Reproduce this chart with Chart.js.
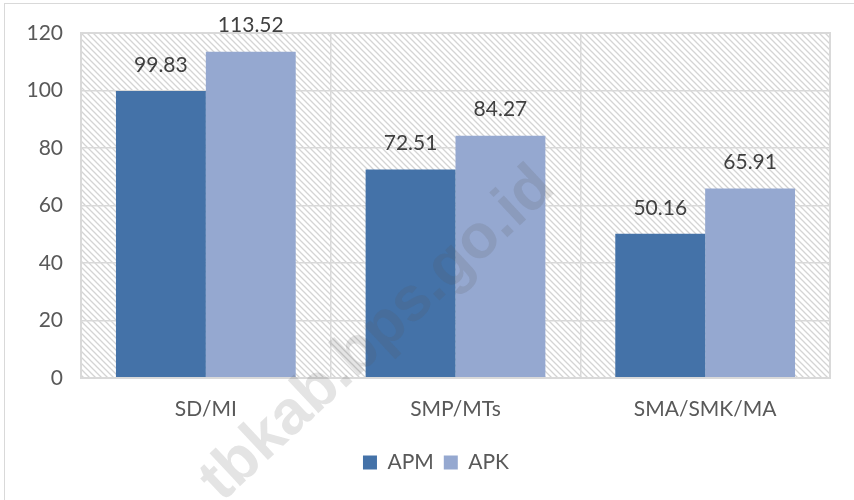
<!DOCTYPE html>
<html>
<head>
<meta charset="utf-8">
<script src="https://cdn.jsdelivr.net/npm/chart.js@4.4.1/dist/chart.umd.min.js"></script>
<style>
  html, body { margin: 0; padding: 0; background: #ffffff; }
  #wrap { position: relative; width: 854px; height: 500px; overflow: hidden; }
  #frame { position: absolute; left: 4px; top: 3px; width: 900px; height: 600px; border: 1px solid #d9d9d9; box-sizing: border-box; pointer-events: none; }
  canvas { position: absolute; left: 0; top: 0; }
</style>
</head>
<body>
<div id="wrap">
  <canvas id="c" width="854" height="500"></canvas>
  <div id="frame"></div>
</div>
<script>
const categories = ["SD/MI", "SMP/MTs", "SMA/SMK/MA"];
const apmValues = [99.83, 72.51, 50.16];
const apkValues = [113.52, 84.27, 65.91];
const seriesNames = ["APM", "APK"];
const yTicks = [0, 20, 40, 60, 80, 100, 120];

const FONT = "Lato, 'Noto Sans', sans-serif";
const FS = 21;

function makeHatch(ctx) {
  const s = 6;
  const p = document.createElement('canvas');
  p.width = s; p.height = s;
  const g = p.getContext('2d');
  g.strokeStyle = '#d4d4d4';
  g.lineWidth = 1.3;
  g.beginPath();
  g.moveTo(-1, -1); g.lineTo(s + 1, s + 1);
  g.moveTo(-1, s - 1); g.lineTo(1, s + 1);
  g.moveTo(s - 1, -1); g.lineTo(s + 1, 1);
  g.stroke();
  return ctx.createPattern(p, 'repeat');
}

const bgPlugin = {
  id: 'bgHatch',
  afterLayout(chart) {
    if (chart.legend) {
      chart.legend.left += 21;
      chart.legend.right += 21;
    }
  },
  beforeDraw(chart) {
    const { ctx, chartArea: a } = chart;
    ctx.save();
    ctx.fillStyle = makeHatch(ctx);
    ctx.fillRect(a.left, a.top, a.right - a.left, a.bottom - a.top);
    ctx.restore();
  },
  afterDatasetsDraw(chart) {
    const { ctx, chartArea: a } = chart;
    ctx.save();
    ctx.strokeStyle = '#d9d9d9';
    ctx.lineWidth = 2;
    ctx.strokeRect(a.left, a.top, a.right - a.left, a.bottom - a.top);
    ctx.font = FS + "px " + FONT;
    ctx.fillStyle = '#404040';
    ctx.textAlign = 'center';
    ctx.textBaseline = 'middle';
    chart.data.datasets.forEach((ds, i) => {
      chart.getDatasetMeta(i).data.forEach((bar, j) => {
        ctx.fillText(ds.data[j].toFixed(2), bar.x, bar.y - 26);
      });
    });
    ctx.restore();
  },
  afterDraw(chart) {
    const { ctx } = chart;
    ctx.save();
    ctx.translate(222, 503);
    ctx.rotate(-43 * Math.PI / 180);
    ctx.font = "bold 62px 'Liberation Sans', Arial, sans-serif";
    ctx.fillStyle = 'rgba(90,90,90,0.16)';
    ctx.textBaseline = 'alphabetic';
    ctx.textAlign = 'left';
    ctx.fillText('tbkab.bps.go.id', 0, 0);
    ctx.restore();
  }
};

new Chart(document.getElementById('c'), {
  type: 'bar',
  data: {
    labels: categories,
    datasets: [
      { label: seriesNames[0], data: apmValues, backgroundColor: '#4472a8', borderWidth: 0 },
      { label: seriesNames[1], data: apkValues, backgroundColor: '#95a8d0', borderWidth: 0 }
    ]
  },
  options: {
    responsive: false,
    animation: false,
    devicePixelRatio: 1,
    layout: { padding: { top: 33, right: 24, bottom: 17, left: 0 } },
    datasets: { bar: { categoryPercentage: 0.72, barPercentage: 1.0 } },
    plugins: {
      legend: {
        position: 'bottom',
        labels: {
          font: { size: FS, family: FONT },
          color: '#595959',
          boxWidth: 14,
          boxHeight: 14,
          padding: 10
        }
      },
      tooltip: { enabled: false }
    },
    scales: {
      x: {
        grid: { offset: true, color: '#d9d9d9', lineWidth: 1.5, drawTicks: false },
        border: { display: false },
        ticks: { font: { size: FS, family: FONT }, color: '#595959', padding: 19 },
        afterFit(s) { s.height = 64; }
      },
      y: {
        min: 0, max: 120,
        afterBuildTicks(s) { s.ticks = yTicks.map(v => ({ value: v })); },
        grid: { color: '#d9d9d9', lineWidth: 1.5, drawTicks: false },
        border: { display: false },
        ticks: { font: { size: FS, family: FONT }, color: '#595959', padding: 18 },
        afterFit(s) { s.width = 81; }
      }
    }
  },
  plugins: [bgPlugin]
});
</script>
</body>
</html>
